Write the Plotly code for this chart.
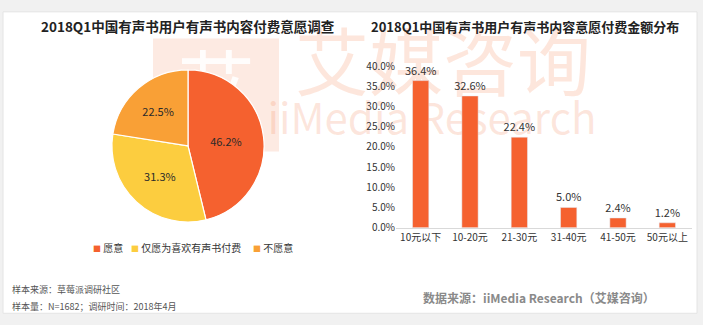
import plotly.graph_objects as go

# ---- data ----
pie_labels = ["愿意", "仅愿为喜欢有声书付费", "不愿意"]
pie_values = [46.2, 31.3, 22.5]
pie_colors = ["#F5612F", "#FCCD3F", "#F9A036"]

bar_categories = ["10元以下", "10-20元", "21-30元", "31-40元", "41-50元", "50元以上"]
bar_values = [0.364, 0.326, 0.224, 0.050, 0.024, 0.012]
y_ticks = [0, 0.05, 0.10, 0.15, 0.20, 0.25, 0.30, 0.35, 0.40]

title_left = "2018Q1中国有声书用户有声书内容付费意愿调查"
title_right = "2018Q1中国有声书用户有声书内容意愿付费金额分布"
note_lines = ["样本来源：草莓派调研社区", "样本量：N=1682；调研时间：2018年4月"]
source_text = "数据来源：iiMedia Research（艾媒咨询）"

W, H = 703, 325
FONT = "Noto Sans CJK SC, Noto Sans, sans-serif"
WM = "rgba(244,140,95,0.22)"

fig = go.Figure()

# watermark (drawn on a full-figure background axis, below pie and bars)
fig.add_trace(go.Scatter(
    x=[216, 443, 432], y=[92, 66, 120],
    text=["艾", "艾媒咨询", "iiMedia Research"],
    mode="text",
    textfont=dict(family=FONT, size=[78, 74, 42], color=["rgba(255,255,255,0.9)", WM, WM]),
    hoverinfo="skip", showlegend=False, xaxis="x", yaxis="y",
))

# pie
px0, py0, r = 188, 144, 80
fig.add_trace(go.Pie(
    labels=pie_labels, values=pie_values, sort=False, direction="clockwise",
    rotation=0,
    marker=dict(colors=pie_colors, line=dict(color="white", width=1.2)),
    texttemplate="%{value:.1f}%", textposition="inside",
    insidetextorientation="horizontal",
    textfont=dict(family=FONT, size=11, color="#2a2a2a"),
    domain=dict(x=[(px0 - r) / W, (px0 + r) / W], y=[1 - (py0 + r) / H, 1 - (py0 - r) / H]),
    hoverinfo="label+percent", showlegend=False,
))

# bars
fig.add_trace(go.Bar(
    x=bar_categories, y=bar_values, marker_color="#F5612F",
    text=[f"{v*100:.1f}%" for v in bar_values], textposition="outside",
    constraintext="none",
    textfont=dict(family=FONT, size=11, color="#333333"),
    cliponaxis=False, showlegend=False, xaxis="x2", yaxis="y2", width=0.33,
))

fig.update_layout(
    width=W, height=H, margin=dict(l=0, r=0, t=0, b=0),
    paper_bgcolor="#f1f1f1", plot_bgcolor="rgba(0,0,0,0)",
    font=dict(family=FONT, color="#333333"),
    xaxis=dict(domain=[0, 1], range=[0, W], visible=False, fixedrange=True),
    yaxis=dict(domain=[0, 1], range=[H, 0], visible=False, fixedrange=True),
    xaxis2=dict(domain=[396 / W, 692 / W], anchor="y2", showgrid=False,
                showline=True, linecolor="#d9d9d9", linewidth=1, ticks="",
                tickfont=dict(size=10, color="#333333")),
    yaxis2=dict(domain=[1 - 230 / H, 1 - 60 / H], anchor="x2", range=[0, 0.40],
                tickvals=y_ticks, tickformat=".1%", showgrid=False, zeroline=False,
                showline=False, ticks="", tickfont=dict(size=10, color="#333333")),
    showlegend=False,
)

# frame and logo block (below traces)
fig.add_shape(type="rect", xref="x", yref="y", x0=3, y0=3, x1=697, y1=320,
              fillcolor="white", line=dict(color="#e4e4e4", width=1), layer="below")
fig.add_shape(type="rect", xref="x", yref="y", x0=153, y0=31, x1=279, y1=150,
              fillcolor="rgba(244,140,95,0.18)", line=dict(width=0), layer="below")

# legend built as text
legend_x = [91, 129, 251]
for lab, col, lx in zip(pie_labels, pie_colors, legend_x):
    fig.add_annotation(x=lx / W, y=1 - 251 / H, xref="paper", yref="paper",
                       text=f"<span style='color:{col};font-size:8px'>■</span> {lab}",
                       showarrow=False, font=dict(size=10, color="#333333"),
                       xanchor="left", yanchor="middle")

# titles and notes
fig.add_annotation(x=188 / W, y=1 - 18 / H, xref="paper", yref="paper", text=f"<b>{title_left}</b>",
                   showarrow=False, font=dict(size=13.5, color="#222222"), xanchor="center", yanchor="middle")
fig.add_annotation(x=525 / W, y=1 - 18 / H, xref="paper", yref="paper", text=f"<b>{title_right}</b>",
                   showarrow=False, font=dict(size=13, color="#222222"), xanchor="center", yanchor="middle")
for i, line in enumerate(note_lines):
    fig.add_annotation(x=10 / W, y=1 - (295 + 18 * i) / H, xref="paper", yref="paper", text=line,
                       showarrow=False, font=dict(size=9, color="#555555"), xanchor="left", yanchor="middle")
fig.add_annotation(x=539 / W, y=1 - 303 / H, xref="paper", yref="paper", text=f"<b>{source_text}</b>",
                   showarrow=False, font=dict(size=12, color="#8a8a8a"), xanchor="center", yanchor="middle")

fig.write_html("out.html")
